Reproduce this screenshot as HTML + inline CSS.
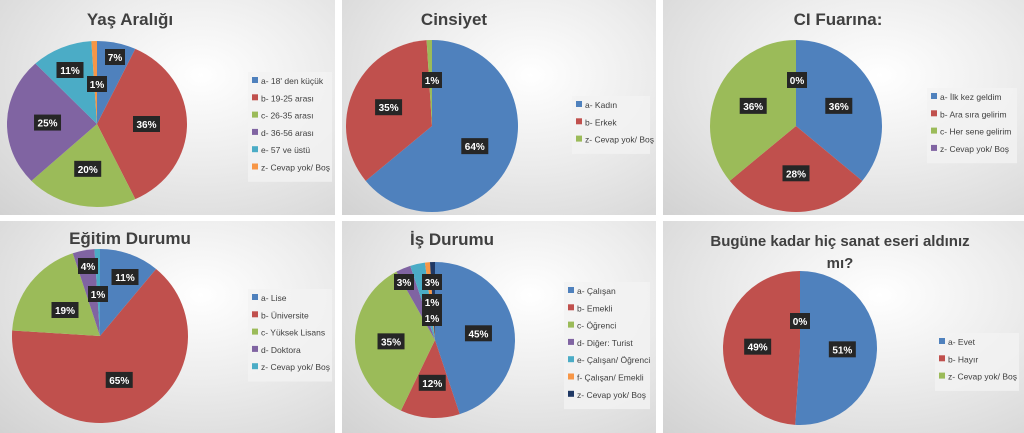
<!DOCTYPE html>
<html><head><meta charset="utf-8">
<style>
body{margin:0;width:1024px;height:433px;background:#fff;position:relative;overflow:hidden;font-family:"Liberation Sans","DejaVu Sans",sans-serif}
.panel{position:absolute;background:radial-gradient(ellipse at 60% 35%,#ffffff 0%,#ececec 45%,#d2d2d2 100%)}
svg{position:absolute;left:0;top:0}
</style></head><body>
<div class="panel" style="left:0;top:0;width:335px;height:215px"></div>
<div class="panel" style="left:342px;top:0;width:314px;height:215px"></div>
<div class="panel" style="left:663px;top:0;width:361px;height:215px"></div>
<div class="panel" style="left:0;top:221px;width:335px;height:212px"></div>
<div class="panel" style="left:342px;top:221px;width:314px;height:212px"></div>
<div class="panel" style="left:663px;top:221px;width:361px;height:212px"></div>
<svg id="chart" width="1024" height="433"></svg>
<script>
const colors=["#4f81bd","#c0504d","#9bbb59","#8064a2","#4bacc6","#f79646","#1f3864"];
const yasLabels=["a- 18' den küçük","b- 19-25 arası","c- 26-35 arası","d- 36-56 arası","e- 57 ve üstü","z- Cevap yok/ Boş"];
const yasValues=[7,36,20,25,11,1];
const cinsLabels=["a- Kadın","b- Erkek","z- Cevap yok/ Boş"];
const cinsValues=[64,35,1];
const fuarLabels=["a- İlk kez geldim","b- Ara sıra gelirim","c- Her sene gelirim","z- Cevap yok/ Boş"];
const fuarValues=[36,28,36,0];
const egitimLabels=["a- Lise","b- Üniversite","c- Yüksek Lisans","d- Doktora","z- Cevap yok/ Boş"];
const egitimValues=[11,65,19,4,1];
const isLabels=["a- Çalışan","b- Emekli","c- Öğrenci","d- Diğer: Turist","e- Çalışan/ Öğrenci","f- Çalışan/ Emekli","z- Cevap yok/ Boş"];
const isValues=[45,12,35,3,3,1,1];
const sanatLabels=["a- Evet","b- Hayır","z- Cevap yok/ Boş"];
const sanatValues=[51,49,0];

const svg=document.getElementById('chart');
const NS="http://www.w3.org/2000/svg";
function mk(tag,attrs,parent){const e=document.createElementNS(NS,tag);for(const k in attrs)e.setAttribute(k,attrs[k]);(parent||svg).appendChild(e);return e;}

function drawPie(name,title,labels,values,g){
  const grp=mk('g',{});
  
  
  title.forEach((t,i)=>{
    const tt=mk('text',{x:g.tx,y:g.ty+i*22,'text-anchor':'middle','font-size':g.ts||17,'font-weight':'bold',fill:'#404040'},grp);
    tt.textContent=t;
    
    
  });
  const total=values.reduce((a,b)=>a+b,0);
  let a0=-Math.PI/2;
  const labs=[];
  values.forEach((v,i)=>{
    const a1=a0+v/total*2*Math.PI;
    if(v>0){
      const x0=g.cx+g.rx*Math.cos(a0),y0=g.cy+g.ry*Math.sin(a0);
      const x1=g.cx+g.rx*Math.cos(a1),y1=g.cy+g.ry*Math.sin(a1);
      const large=(a1-a0)>Math.PI?1:0;
      const p=mk('path',{d:`M${g.cx},${g.cy}L${x0},${y0}A${g.rx},${g.ry} 0 ${large} 1 ${x1},${y1}Z`,fill:colors[i]},grp);
      
      
    }
    const am=(a0+a1)/2;
    const f=0.55;
    let x=g.cx+g.rx*f*Math.cos(am),y=g.cy+g.ry*f*Math.sin(am);
    if(g.lp&&g.lp[i]){x=g.cx+g.lp[i][0];y=g.cy+g.lp[i][1];}
    labs.push({x:x,y:y,v:v});
    a0=a1;
  });
  labs.forEach((l,i)=>{
    const txt=Math.round(l.v)+'%';
    const w=txt.length*7+6;
    const r=mk('rect',{x:l.x-w/2,y:l.y-8,width:w,height:16,fill:'#262626'},grp);
    
    
    const t=mk('text',{x:l.x,y:l.y+4,'text-anchor':'middle','font-size':10,'font-weight':'bold',fill:'#fff'},grp);
    t.textContent=txt;
    
    
  });
  const lh=17.3;
  const lg=mk('rect',{x:g.lx-4,y:g.ly-9,width:g.lw,height:labels.length*lh+6,fill:'#f2f2f2',opacity:0.8},grp);
  
  
  labels.forEach((lab,i)=>{
    const y=g.ly+i*lh;
    const s=mk('rect',{x:g.lx,y:y-4,width:6,height:6,fill:colors[i]},grp);
    
    
    const t=mk('text',{x:g.lx+9,y:y+3,'font-size':8.5,fill:'#404040'},grp);
    t.textContent=lab;
    
    
  });
}
drawPie('yas',['Yaş Aralığı'],yasLabels,yasValues,{tx:130,ty:25,cx:97,cy:124,rx:90,ry:83,lx:252,ly:81,lw:84,
  lp:[[18,-67],null,null,null,[-27,-54],[0,-40]]});
drawPie('cinsiyet',['Cinsiyet'],cinsLabels,cinsValues,{tx:454,ty:25,cx:432,cy:126,rx:86,ry:86,lx:576,ly:105,lw:78,
  lp:[null,null,[0,-46]]});
drawPie('fuar',['CI Fuarına:'],fuarLabels,fuarValues,{tx:838,ty:25,cx:796,cy:126,rx:86,ry:86,lx:931,ly:97,lw:90,
  lp:[null,null,null,[1,-46]]});
drawPie('egitim',['Eğitim Durumu'],egitimLabels,egitimValues,{tx:130,ty:244,cx:100,cy:336,rx:88,ry:87,lx:252,ly:298,lw:84,
  lp:[[25,-59],null,[-35,-26],[-12,-70],[-2,-42]]});
drawPie('is',['İş Durumu'],isLabels,isValues,{tx:452,ty:245,cx:435,cy:340,rx:80,ry:78,lx:568,ly:291,lw:86,
  lp:[null,null,null,[-31,-58],[-3,-58],[-3,-38],[-3,-22]]});
drawPie('sanat',['Bugüne kadar hiç sanat eseri aldınız','mı?'],sanatLabels,sanatValues,{tx:840,ty:246,ts:15,cx:800,cy:348,rx:77,ry:77,lx:939,ly:342,lw:84,
  lp:[null,null,[0,-27]]});
</script>
</body></html>
